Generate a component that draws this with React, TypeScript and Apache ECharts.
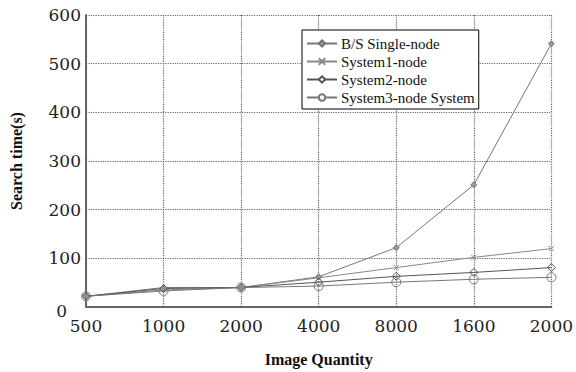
import React, { useEffect, useRef } from "react";
import * as echarts from "echarts";

const categories = ["500", "1000", "2000", "4000", "8000", "1600", "2000"];
const bsSingle = [22, 40, 40, 62, 122, 251, 541];
const system1 = [22, 35, 40, 60, 81, 102, 120];
const system2 = [22, 38, 40, 51, 63, 71, 81];
const system3 = [22, 33, 40, 43, 51, 57, 61];
const seriesNames = ["B/S Single-node", "System1-node", "System2-node", "System3-node System"];

const serif = "Liberation Serif";
const tickFont = "DejaVu Serif";

export default function App() {
  const ref = useRef<HTMLDivElement>(null);
  useEffect(() => {
    const chart = echarts.init(ref.current!, null, { renderer: "svg" });
    const mk = (name: string, data: number[], color: string, symbol: string, size: number, fill: string) => ({
      name,
      type: "line",
      data,
      symbol,
      symbolSize: size,
      showSymbol: true,
      lineStyle: { color, width: 1 },
      itemStyle: { color: fill, borderColor: color, borderWidth: 1 },
    });
    const legendFill = ["#999", "#fff", "#fff", "#fff"];
    chart.setOption({
      animation: false,
      backgroundColor: "#fff",
      grid: { left: 86, right: 23, top: 15, bottom: 64 },
      legend: {
        orient: "vertical",
        left: 302,
        top: 30,
        data: seriesNames.map((n, i) => ({ name: n, itemStyle: { color: legendFill[i] } })),
        backgroundColor: "#fff",
        borderColor: "#000",
        borderWidth: 1,
        padding: [6, 4, 4, 4],
        itemGap: 3,
        itemWidth: 30,
        itemHeight: 8,
        textStyle: { fontFamily: serif, fontSize: 15, color: "#111", padding: [0, 0, 0, -1] },
      },
      xAxis: {
        type: "category",
        data: categories,
        boundaryGap: false,
        name: "Image Quantity",
        nameLocation: "middle",
        nameGap: 44,
        nameTextStyle: { fontFamily: serif, fontWeight: "bold", fontSize: 16, color: "#111" },
        axisLine: { lineStyle: { color: "#666", width: 2 } },
        axisTick: { show: false },
        axisLabel: { fontFamily: tickFont, fontSize: 17, color: "#222", margin: 10 },
        splitLine: { show: true, lineStyle: { type: "dotted", color: "#666", width: 1.2 } },
      },
      yAxis: {
        type: "value",
        min: 0,
        max: 600,
        interval: 100,
        name: "Search time(s)",
        nameLocation: "middle",
        nameGap: 62,
        nameTextStyle: { fontFamily: serif, fontWeight: "bold", fontSize: 16, color: "#111" },
        axisLine: { show: true, lineStyle: { color: "#666", width: 2 } },
        axisTick: { show: false },
        axisLabel: {
          fontFamily: tickFont,
          fontSize: 17,
          color: "#222",
          margin: 5,
          formatter: (v: number) => (v === 0 ? "{z|0}" : String(v)),
          rich: { z: { fontFamily: tickFont, fontSize: 17, color: "#222", padding: [8, 14, 0, 0] } },
        },
        splitLine: { show: true, lineStyle: { type: "dotted", color: "#666", width: 1.2 } },
      },
      series: [
        mk(seriesNames[0], bsSingle, "#777", "diamond", 6, "#999"),
        mk(seriesNames[1], system1, "#888", "path://M0,0L10,10M10,0L0,10", 5, "transparent"),
        mk(seriesNames[2], system2, "#555", "diamond", 8, "transparent"),
        mk(seriesNames[3], system3, "#777", "circle", 9, "transparent"),
      ],
    });
    return () => chart.dispose();
  }, []);
  return <div ref={ref} style={{ position: "fixed", left: 0, top: 0, width: 576, height: 372 }} />;
}
